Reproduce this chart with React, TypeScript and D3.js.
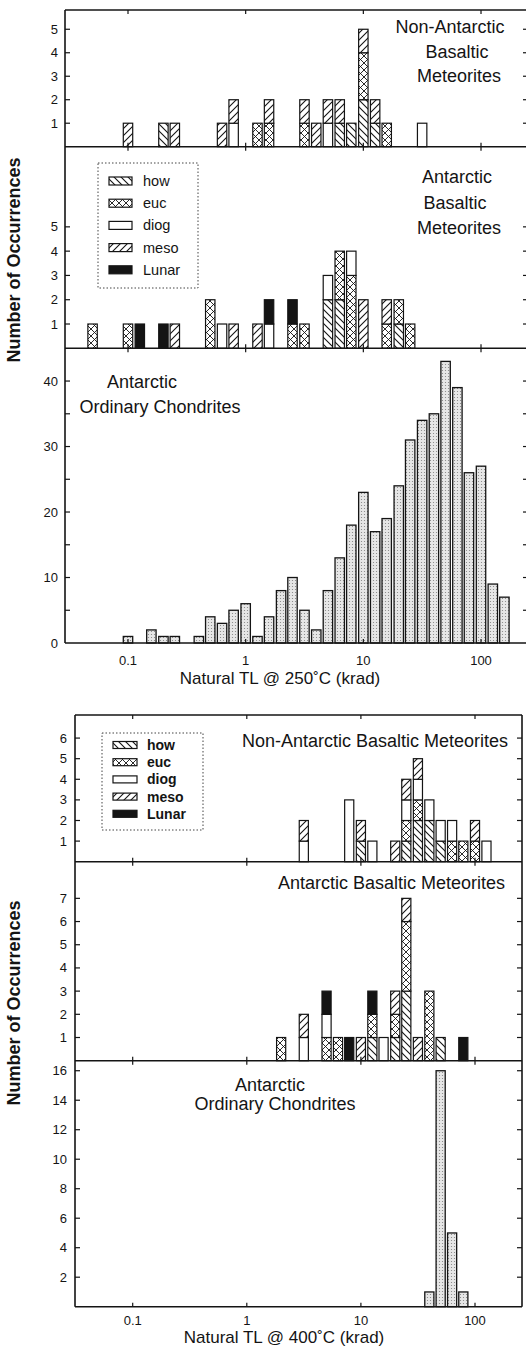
import React, { useRef, useEffect } from "react";
import * as d3 from "d3";

const types = ["how", "euc", "diog", "meso", "Lunar"];

// Natural TL @ 250 C — bin centres in krad (10 bins per decade)
const nonAnt250Bins = [0.1, 0.2, 0.25, 0.63, 0.79, 1.26, 1.58, 3.16, 3.98, 5, 6.3, 7.9, 10, 12.6, 15.8, 31.6];
const nonAnt250How = [0, 1, 0, 0, 0, 0, 0, 0, 0, 0, 1, 1, 2, 1, 0, 0];
const nonAnt250Euc = [0, 0, 0, 0, 0, 1, 1, 1, 0, 0, 0, 0, 2, 0, 1, 0];
const nonAnt250Diog = [0, 0, 0, 0, 1, 0, 0, 0, 0, 1, 0, 0, 0, 0, 0, 1];
const nonAnt250Meso = [1, 0, 1, 1, 1, 0, 1, 1, 1, 1, 1, 0, 1, 1, 0, 0];
const nonAnt250Lunar = [0, 0, 0, 0, 0, 0, 0, 0, 0, 0, 0, 0, 0, 0, 0, 0];

const ant250Bins = [0.05, 0.1, 0.126, 0.2, 0.25, 0.5, 0.63, 0.79, 1.26, 1.58, 2.5, 3.16, 5, 6.3, 7.9, 10, 15.8, 20, 25];
const ant250How = [0, 0, 0, 0, 0, 0, 0, 0, 0, 0, 0, 0, 2, 2, 0, 0, 0, 1, 0];
const ant250Euc = [1, 1, 0, 0, 0, 2, 0, 0, 0, 0, 1, 1, 0, 2, 3, 0, 1, 1, 1];
const ant250Diog = [0, 0, 0, 0, 0, 0, 1, 0, 0, 1, 0, 0, 1, 0, 1, 0, 0, 0, 0];
const ant250Meso = [0, 0, 0, 0, 1, 0, 0, 1, 1, 0, 0, 0, 0, 0, 0, 2, 1, 0, 0];
const ant250Lunar = [0, 0, 1, 1, 0, 0, 0, 0, 0, 1, 1, 0, 0, 0, 0, 0, 0, 0, 0];

const oc250Bins = [0.1, 0.158, 0.2, 0.25, 0.4, 0.5, 0.63, 0.79, 1, 1.26, 1.58, 2, 2.5, 3.16, 3.98, 5, 6.3, 7.9, 10, 12.6, 15.8, 20, 25, 31.6, 39.8, 50, 63, 79, 100, 126, 158];
const oc250Counts = [1, 2, 1, 1, 1, 4, 3, 5, 6, 1, 4, 8, 10, 5, 2, 8, 13, 18, 23, 17, 19, 24, 31, 34, 35, 43, 39, 26, 27, 9, 7];

// Natural TL @ 400 C
const nonAnt400Bins = [3.16, 7.9, 10, 12.6, 20, 25, 31.6, 39.8, 50, 63, 79, 100, 126];
const nonAnt400How = [0, 0, 1, 0, 0, 1, 2, 2, 1, 0, 0, 0, 0];
const nonAnt400Euc = [0, 0, 0, 0, 0, 1, 1, 0, 0, 1, 1, 1, 0];
const nonAnt400Diog = [1, 3, 0, 1, 0, 1, 1, 1, 1, 1, 0, 0, 1];
const nonAnt400Meso = [1, 0, 1, 0, 1, 1, 1, 0, 0, 0, 0, 1, 0];
const nonAnt400Lunar = [0, 0, 0, 0, 0, 0, 0, 0, 0, 0, 0, 0, 0];

const ant400Bins = [2, 3.16, 5, 6.3, 7.9, 10, 12.6, 15.8, 20, 25, 31.6, 39.8, 50, 79];
const ant400How = [0, 0, 0, 0, 0, 0, 1, 0, 1, 3, 0, 0, 1, 0];
const ant400Euc = [1, 0, 1, 1, 0, 0, 1, 0, 1, 3, 0, 3, 0, 0];
const ant400Diog = [0, 1, 1, 0, 0, 0, 0, 1, 0, 0, 0, 0, 0, 0];
const ant400Meso = [0, 1, 0, 0, 0, 1, 0, 0, 1, 1, 1, 0, 0, 0];
const ant400Lunar = [0, 0, 1, 0, 1, 0, 1, 0, 0, 0, 0, 0, 0, 1];

const oc400Bins = [39.8, 50, 63, 79];
const oc400Counts = [1, 16, 5, 1];

const xTickValues = [0.1, 1, 10, 100];
const xTickLabels = ["0.1", "1", "10", "100"];

const toRows = (bins, how, euc, diog, meso, lunar) =>
  bins.map((b, i) => ({ bin: b, how: how[i], euc: euc[i], diog: diog[i], meso: meso[i], Lunar: lunar[i] }));

const ink = "#141414";
const font = "'Liberation Sans', Arial, sans-serif";

const figures = [
  {
    left: 65, right: 528, dec0: 128, decPx: 117.67,
    xTitle: "Natural TL @ 250\u02daC (krad)", xTitleX: 280, xTitleY: 684, tickLabelY: 665, yTitleY: 260,
    labelX: 58,
    legend: { x: 98, y: 163, w: 100, h: 125, row0: 181, step: 22.2, gx: 109, gw: 23, gh: 8, tx: 143, size: 14.5 },
    panels: [
      { top: 10, base: 146.7, max: 5.82, ticks: [1, 2, 3, 4, 5], labels: [1, 2, 3, 4, 5],
        rows: toRows(nonAnt250Bins, nonAnt250How, nonAnt250Euc, nonAnt250Diog, nonAnt250Meso, nonAnt250Lunar),
        title: [["Non-Antarctic", 450, 33], ["Basaltic", 457, 58], ["Meteorites", 459, 82]] },
      { top: 146.7, base: 348.3, max: 8.3, ticks: [1, 2, 3, 4, 5], labels: [1, 2, 3, 4, 5],
        rows: toRows(ant250Bins, ant250How, ant250Euc, ant250Diog, ant250Meso, ant250Lunar),
        title: [["Antarctic", 457, 183], ["Basaltic", 455, 209], ["Meteorites", 459, 234]] },
      { top: 348.3, base: 643, max: 45, ticks: [5, 10, 15, 20, 25, 30, 35, 40], labels: [0, 10, 20, 30, 40],
        bins: oc250Bins, counts: oc250Counts,
        title: [["Antarctic", 142, 388], ["Ordinary Chondrites", 160, 413]] }
    ]
  },
  {
    left: 75, right: 522, dec0: 132.7, decPx: 114.1,
    xTitle: "Natural TL @ 400\u02daC (krad)", xTitleX: 284, xTitleY: 1343, tickLabelY: 1325, yTitleY: 1003,
    labelX: 67,
    legend: { x: 102, y: 733, w: 101, h: 97, row0: 745, step: 17.2, gx: 113, gw: 24, gh: 7, tx: 147, size: 14, bold: true },
    panels: [
      { top: 715, base: 861.7, max: 7.12, ticks: [1, 2, 3, 4, 5, 6], labels: [1, 2, 3, 4, 5, 6],
        rows: toRows(nonAnt400Bins, nonAnt400How, nonAnt400Euc, nonAnt400Diog, nonAnt400Meso, nonAnt400Lunar),
        title: [["Non-Antarctic Basaltic Meteorites", 508, 746.5, "end"]] },
      { top: 861.7, base: 1060.7, max: 8.58, ticks: [1, 2, 3, 4, 5, 6, 7], labels: [1, 2, 3, 4, 5, 6, 7],
        rows: toRows(ant400Bins, ant400How, ant400Euc, ant400Diog, ant400Meso, ant400Lunar),
        title: [["Antarctic Basaltic Meteorites", 505, 889, "end"]] },
      { top: 1060.7, base: 1306.7, max: 16.68, ticks: [2, 4, 6, 8, 10, 12, 14, 16], labels: [2, 4, 6, 8, 10, 12, 14, 16],
        bins: oc400Bins, counts: oc400Counts,
        title: [["Antarctic", 270, 1091], ["Ordinary Chondrites", 275, 1110]] }
    ]
  }
];

const App = () => {
  const svgRef = useRef(null);

  useEffect(() => {
    const svg = d3.select(svgRef.current);
    svg.selectAll("*").remove();

    const defs = svg.append("defs");
    const pattern = (id, s, d, w) => {
      const p = defs.append("pattern").attr("id", id)
        .attr("patternUnits", "userSpaceOnUse").attr("width", s).attr("height", s);
      p.append("rect").attr("width", s).attr("height", s).attr("fill", "#fff");
      p.append("path").attr("d", d).attr("stroke", ink).attr("stroke-width", w).attr("fill", "none");
    };
    pattern("how", 7, "M-1,-1L8,8M-1,6L1,8M6,-1L8,1", 1.1);
    pattern("meso", 7, "M-1,8L8,-1M-1,1L1,-1M6,8L8,6", 1.1);
    pattern("euc", 7, "M-1,-1L8,8M-1,6L1,8M6,-1L8,1M-1,8L8,-1M-1,1L1,-1M6,8L8,6", 0.9);
    const stip = defs.append("pattern").attr("id", "stip")
      .attr("patternUnits", "userSpaceOnUse").attr("width", 3).attr("height", 3);
    stip.append("rect").attr("width", 3).attr("height", 3).attr("fill", "#e6e6e6");
    stip.append("circle").attr("cx", 1.5).attr("cy", 1.5).attr("r", 0.6).attr("fill", "#808080");

    const fills = { how: "url(#how)", euc: "url(#euc)", diog: "#fff", meso: "url(#meso)", Lunar: ink };

    figures.forEach(fig => {
      const x = d3.scaleLog()
        .domain([10 ** ((fig.left - fig.dec0) / fig.decPx - 1), 10 ** ((fig.right - fig.dec0) / fig.decPx - 1)])
        .range([fig.left, fig.right]);
      const half = 10 ** 0.04;
      const g = svg.append("g");

      fig.panels.forEach(p => {
        const y = d3.scaleLinear().domain([0, p.max]).range([p.base, p.top]);

        if (p.rows) {
          const series = d3.stack().keys(types)(p.rows);
          series.forEach(s => {
            s.forEach(d => {
              if (d[1] <= d[0]) return;
              g.append("rect")
                .attr("x", x(d.data.bin / half))
                .attr("width", x(d.data.bin * half) - x(d.data.bin / half))
                .attr("y", y(d[1]))
                .attr("height", y(d[0]) - y(d[1]))
                .attr("fill", fills[s.key])
                .attr("stroke", ink)
                .attr("stroke-width", 1.2);
            });
          });
        } else {
          p.bins.forEach((b, i) => {
            g.append("rect")
              .attr("x", x(b / half))
              .attr("width", x(b * half) - x(b / half))
              .attr("y", y(p.counts[i]))
              .attr("height", y(0) - y(p.counts[i]))
              .attr("fill", "url(#stip)")
              .attr("stroke", ink)
              .attr("stroke-width", 1.3);
          });
        }

        // y ticks, inward on both sides
        p.ticks.forEach(t => {
          g.append("line").attr("x1", fig.left).attr("x2", fig.left + 5)
            .attr("y1", y(t)).attr("y2", y(t)).attr("stroke", ink).attr("stroke-width", 1.2);
          g.append("line").attr("x1", fig.right - 5).attr("x2", fig.right)
            .attr("y1", y(t)).attr("y2", y(t)).attr("stroke", ink).attr("stroke-width", 1.2);
        });
        p.labels.forEach(t => {
          g.append("text").attr("x", fig.labelX).attr("y", y(t) + 4.5)
            .attr("text-anchor", "end").attr("font-size", 13).attr("font-family", font)
            .attr("fill", ink).text(t);
        });

        // x ticks at top and bottom of each panel
        xTickValues.forEach(v => {
          g.append("line").attr("x1", x(v)).attr("x2", x(v)).attr("y1", p.top).attr("y2", p.top + 4)
            .attr("stroke", ink).attr("stroke-width", 1.2);
          g.append("line").attr("x1", x(v)).attr("x2", x(v)).attr("y1", p.base - 4).attr("y2", p.base)
            .attr("stroke", ink).attr("stroke-width", 1.2);
        });

        p.title.forEach(([txt, tx, ty, anchor]) => {
          g.append("text").attr("x", tx).attr("y", ty)
            .attr("text-anchor", anchor || "middle").attr("font-size", 18)
            .attr("font-family", font).attr("fill", ink).text(txt);
        });

        g.append("line").attr("x1", fig.left).attr("x2", fig.right)
          .attr("y1", p.top).attr("y2", p.top).attr("stroke", ink).attr("stroke-width", 1.6);
      });

      const top = fig.panels[0].top;
      const bottom = fig.panels[fig.panels.length - 1].base;
      g.append("line").attr("x1", fig.left).attr("x2", fig.right)
        .attr("y1", bottom).attr("y2", bottom).attr("stroke", ink).attr("stroke-width", 1.6);
      g.append("line").attr("x1", fig.left).attr("x2", fig.left)
        .attr("y1", top).attr("y2", bottom).attr("stroke", ink).attr("stroke-width", 1.6);
      g.append("line").attr("x1", fig.right).attr("x2", fig.right)
        .attr("y1", top).attr("y2", bottom).attr("stroke", ink).attr("stroke-width", 1.6);

      // x tick labels and titles
      xTickValues.forEach((v, i) => {
        g.append("text").attr("x", x(v)).attr("y", fig.tickLabelY)
          .attr("text-anchor", "middle").attr("font-size", 13).attr("font-family", font)
          .attr("fill", ink).text(xTickLabels[i]);
      });
      g.append("text").attr("x", fig.xTitleX).attr("y", fig.xTitleY)
        .attr("text-anchor", "middle").attr("font-size", 17).attr("font-family", font)
        .attr("fill", ink).text(fig.xTitle);
      g.append("text")
        .attr("transform", `translate(20,${fig.yTitleY}) rotate(-90)`)
        .attr("text-anchor", "middle").attr("font-size", 18).attr("font-weight", "bold")
        .attr("font-family", font).attr("fill", ink).text("Number of Occurrences");

      // legend
      const L = fig.legend;
      g.append("rect").attr("x", L.x).attr("y", L.y).attr("width", L.w).attr("height", L.h)
        .attr("fill", "#fff").attr("stroke", "#444").attr("stroke-width", 1)
        .attr("stroke-dasharray", "1.5,2");
      types.forEach((t, i) => {
        const cy = L.row0 + i * L.step;
        g.append("rect").attr("x", L.gx).attr("y", cy - L.gh / 2).attr("width", L.gw).attr("height", L.gh)
          .attr("fill", fills[t]).attr("stroke", ink).attr("stroke-width", 1.2);
        g.append("text").attr("x", L.tx).attr("y", cy + 5)
          .attr("font-size", L.size).attr("font-family", font)
          .attr("font-weight", L.bold ? "bold" : "normal")
          .attr("fill", ink).text(t);
      });
    });
  }, []);

  return (
    <svg ref={svgRef} width={526} height={1351}
      style={{ position: "absolute", left: 0, top: 0, background: "#fff" }} />
  );
};

export default App;
